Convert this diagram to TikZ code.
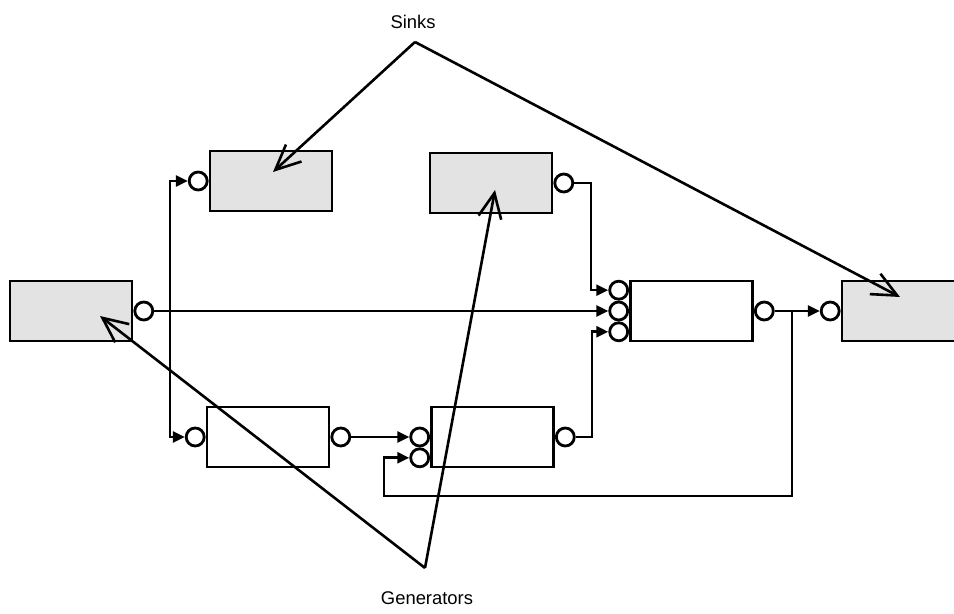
\documentclass[tikz,border=0pt]{standalone}
\usepackage{fontspec}
\setmainfont{Liberation Sans}
\usetikzlibrary{arrows.meta}
\definecolor{boxgray}{RGB}{227,227,227}
\begin{document}
\begin{tikzpicture}[x=0.5pt,y=-0.5pt,
  block/.style={draw, line width=1.4pt, minimum width=61pt, minimum height=30pt, inner sep=0pt},
  gblock/.style={block, fill=boxgray},
  port/.style={draw, circle, fill=white, line width=1.4pt, minimum size=9pt, inner sep=0pt},
  wire/.style={line width=1.3pt},
  flow/.style={wire, -{Triangle[length=6pt,width=5.5pt]}},
  note/.style={line width=1.3pt, -{Straight Barb[length=12.5pt,width=11.5pt]}},
  label/.style={font=\fontsize{9.2pt}{11pt}\selectfont, inner sep=0pt}
]
\useasboundingbox (0,0) rectangle (954,614);

% blocks
\node[gblock] (gen1)  at (71,311)   {};
\node[gblock] (sinkA) at (271,181)  {};
\node[gblock] (genB)  at (491,183)  {};
\node[block]  (procC) at (691.5,311) {};
\node[gblock] (sinkD) at (903,311)  {};
\node[block]  (procE) at (268,437)  {};
\node[block]  (procF) at (492.5,437) {};

% ports
\node[port, anchor=west] (gen1out)  at (gen1.east)  {};
\node[port, anchor=east] (sinkAin)  at (sinkA.west) {};
\node[port, anchor=west] (genBout)  at (genB.east)  {};
\node[port, anchor=east] (procCin2) at (procC.west) {};
\node[port, anchor=south] (procCin1) at (procCin2.north) {};
\node[port, anchor=north] (procCin3) at (procCin2.south) {};
\node[port, anchor=west] (procCout) at (procC.east) {};
\node[port, anchor=east] (sinkDin)  at (sinkD.west) {};
\node[port, anchor=east] (procEin)  at (procE.west) {};
\node[port, anchor=west] (procEout) at (procE.east) {};
\node[port, anchor=east] (procFin1) at (procF.west) {};
\node[port, anchor=north] (procFin2) at (procFin1.south) {};
\node[port, anchor=west] (procFout) at (procF.east) {};

% bend points of the wiring
\coordinate (split) at (170,311);
\coordinate (xB) at (591,0);
\coordinate (xF) at (592,0);
\coordinate (tap) at (792,311);
\coordinate (fbDown) at (792,496);
\coordinate (fbLeft) at (384,496);

% signal wiring
\draw[flow] (gen1out) -- (procCin2);
\draw[flow] (split) |- (sinkAin);
\draw[flow] (split) |- (procEin);
\draw[flow] (genBout) -- (genBout -| xB) |- (procCin1);
\draw[flow] (procFout) -- (procFout -| xF) |- (procCin3);
\draw[flow] (procEout) -- (procFin1);
\draw[flow] (procCout) -- (sinkDin);
\draw[flow] (tap) -- (fbDown) -- (fbLeft) |- (procFin2);

% annotations
\node[label] (sinks) at (413,22) {Sinks};
\node[label] (gens)  at (427,598) {Generators};
\coordinate (sinkApex) at (415,42);
\coordinate (genApex)  at (425,568);
\coordinate (sinkAtip) at (273,172);
\coordinate (sinkDtip) at (900,297);
\coordinate (gen1tip)  at (100,316);
\coordinate (genBtip)  at (495,190);
\draw[note] (sinkApex) -- (sinkAtip);
\draw[note] (sinkApex) -- (sinkDtip);
\draw[note] (genApex) -- (gen1tip);
\draw[note] (genApex) -- (genBtip);
\end{tikzpicture}
\end{document}
